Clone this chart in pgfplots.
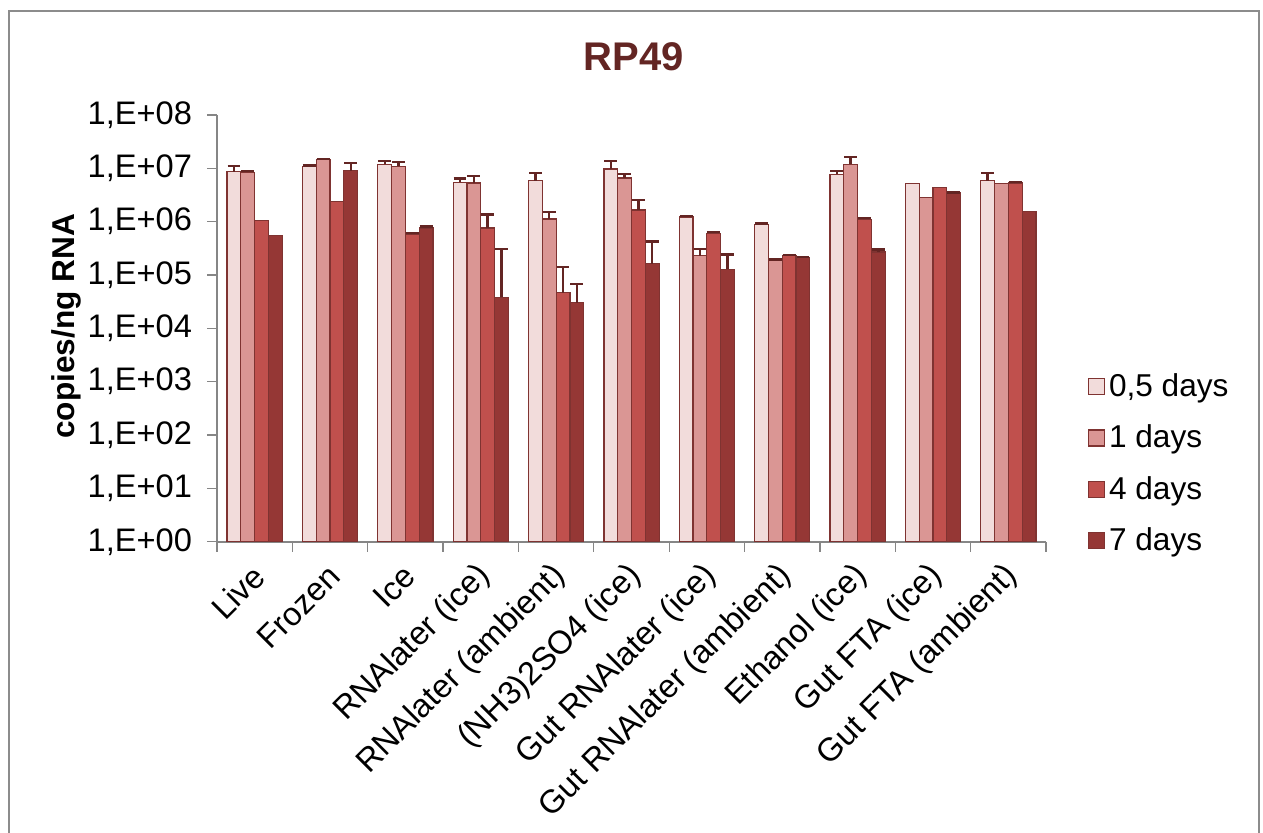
\documentclass[border=0pt]{standalone}
\usepackage{fontspec}
\setmainfont{Liberation Sans}
\usepackage{pgfplots}
\usepackage{pgfplotstable}
\pgfplotsset{compat=1.18}
\definecolor{cA}{HTML}{F2DCDB}
\definecolor{cB}{HTML}{DA9694}
\definecolor{cC}{HTML}{C0504D}
\definecolor{cD}{HTML}{953735}
\definecolor{edge}{HTML}{7F3331}
\definecolor{errc}{HTML}{632523}
\definecolor{axg}{HTML}{868686}
\definecolor{frameg}{HTML}{8C8C8C}

\pgfplotstableread{
x y
0 8.7e6
1 1.09e7
2 1.2e7
3 5.5e6
4 5.85e6
5 9.7e6
6 1.22e6
7 9.0e5
8 7.7e6
9 5.2e6
10 5.85e6
}\sA
\pgfplotstableread{
x y
0 8.5e6
1 1.45e7
2 1.09e7
3 5.3e6
4 1.12e6
5 6.6e6
6 2.32e5
7 1.87e5
8 1.2e7
9 2.85e6
10 5.2e6
}\sB
\pgfplotstableread{
x y
0 1.04e6
1 2.43e6
2 5.85e5
3 7.6e5
4 4.7e4
5 1.65e6
6 6.1e5
7 2.29e5
8 1.1e6
9 4.45e6
10 5.3e6
}\sC
\pgfplotstableread{
x y
0 5.6e5
1 9.1e6
2 7.6e5
3 3.8e4
4 3.05e4
5 1.62e5
6 1.29e5
7 2.1e5
8 2.7e5
9 3.44e6
10 1.53e6
}\sD
\pgfplotstableread{
x y e
0 8.7e6 2.5e6
1 1.09e7 0.5e6
2 1.2e7 1.8e6
3 5.5e6 1.0e6
4 5.85e6 2.25e6
5 9.7e6 4.1e6
6 1.22e6 0.05e6
7 9.0e5 0.3e5
8 7.7e6 1.3e6
10 5.85e6 2.25e6
}\eA
\pgfplotstableread{
x y e
0 8.5e6 0.4e6
1 1.45e7 0.3e6
2 1.09e7 2.2e6
3 5.3e6 1.9e6
4 1.12e6 0.4e6
5 6.6e6 1.3e6
6 2.32e5 0.74e5
7 1.87e5 0.1e5
8 1.2e7 4.2e6
}\eB
\pgfplotstableread{
x y e
2 5.85e5 0.3e5
3 7.6e5 6.1e5
4 4.7e4 9.3e4
5 1.65e6 0.89e6
6 6.1e5 0.3e5
7 2.29e5 0.1e5
8 1.1e6 0.07e6
10 5.3e6 0.3e6
}\eC
\pgfplotstableread{
x y e
1 9.1e6 3.5e6
2 7.6e5 0.5e5
3 3.8e4 2.7e5
4 3.05e4 3.75e4
5 1.62e5 2.63e5
6 1.29e5 1.14e5
7 2.1e5 0.1e5
8 2.7e5 0.3e5
9 3.44e6 0.1e6
}\eD

\pgfplotsset{
  bstyle/.style={ybar, bar width=6.9pt, bar shift=#1, draw=edge, line width=0.6pt,
    legend image code/.code={\draw[##1, line width=0.6pt] (0pt,-4pt) rectangle (8pt,4pt);}},
  estyle/.style={draw=none, mark=none, forget plot,
    error bars/.cd, y dir=plus, y explicit,
    error bar style={draw=errc, line width=1.2pt, solid},
    error mark options={draw=errc, line width=1.2pt, mark size=3.2pt, solid, rotate=90}},
}

\begin{document}
\begin{tikzpicture}[x=1pt,y=1pt]
\useasboundingbox (0,0) rectangle (631.5,416);
\draw[frameg, line width=1pt] (4.5,-20) rectangle (629.5,410.5);
\node[font=\fontsize{20}{24}\selectfont\bfseries, text=errc] at (317,387.5) {RP49};
\node[rotate=90, font=\fontsize{15.8}{19}\selectfont\bfseries] at (33.25,252.75) {copies/ng RNA};
\begin{axis}[
  at={(108.5pt,145.15pt)}, anchor=south west,
  scale only axis, width=414.5pt, height=213.35pt,
  xmin=-0.5, xmax=10.5, ymode=log, ymin=1, ymax=1e8,
  ytick={1,10,100,1000,10000,100000,1000000,10000000,100000000},
  yticklabels={{1,E+00},{1,E+01},{1,E+02},{1,E+03},{1,E+04},{1,E+05},{1,E+06},{1,E+07},{1,E+08}},
  yticklabel style={font=\fontsize{16.3}{19}\selectfont, xshift=-4pt},
  yminorticks=false, xminorticks=false,
  xtick={-0.5,0.5,...,10.5}, xticklabels={},
  extra x ticks={0,1,2,3,4,5,6,7,8,9,10},
  extra x tick labels={Live,Frozen,Ice,RNAlater (ice),RNAlater (ambient),(NH3)2SO4 (ice),Gut RNAlater (ice),Gut RNAlater (ambient),Ethanol (ice),Gut FTA (ice),Gut FTA (ambient)},
  extra x tick style={major tick length=0pt, xticklabel style={rotate=45, anchor=east, font=\fontsize{16.3}{19}\selectfont, inner sep=1pt, yshift=-12pt, xshift=-7.7pt}},
  tick align=outside, major tick length=5pt,
  tick style={axg, line width=0.6pt},
  axis x line*=bottom, axis y line*=left,
  axis line style={axg, line width=0.8pt, -},
  legend style={at={(axis description cs:1.05,0.183)}, anchor=west, draw=none, fill=none,
    font=\fontsize{15.8}{19}\selectfont, row sep=8.7pt, inner sep=0pt},
  legend cell align=left,
  clip=false,
]
\addplot[bstyle=-10.35pt, fill=cA] table[x=x,y=y]{\sA};
\addplot[bstyle=-3.45pt, fill=cB] table[x=x,y=y]{\sB};
\addplot[bstyle=3.45pt, fill=cC] table[x=x,y=y]{\sC};
\addplot[bstyle=10.35pt, fill=cD] table[x=x,y=y]{\sD};
\addplot[estyle] table[x expr=\thisrow{x}-0.2747,y=y,y error=e]{\eA};
\addplot[estyle] table[x expr=\thisrow{x}-0.0916,y=y,y error=e]{\eB};
\addplot[estyle] table[x expr=\thisrow{x}+0.0916,y=y,y error=e]{\eC};
\addplot[estyle] table[x expr=\thisrow{x}+0.2747,y=y,y error=e]{\eD};
\legend{{0,5 days},{1 days},{4 days},{7 days}}
\end{axis}
\end{tikzpicture}
\end{document}
